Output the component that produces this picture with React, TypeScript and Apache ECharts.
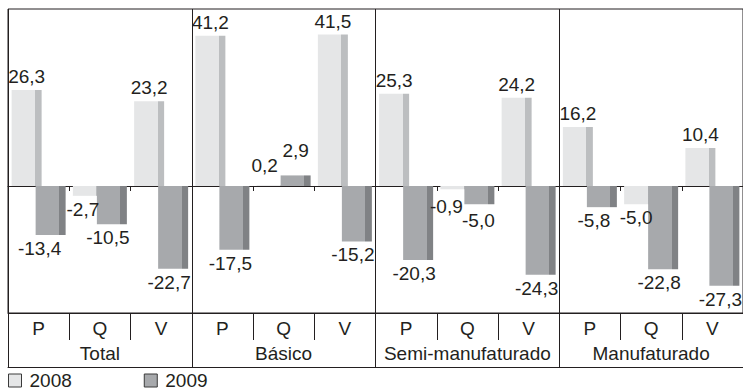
import React, { useEffect, useRef } from "react";
import * as echarts from "echarts";

// Price (P), quantity (Q) and value (V) variation by product group, in %
const groups = ["Total", "Básico", "Semi-manufaturado", "Manufaturado"];
const measures = ["P", "Q", "V"];
const years = ["2008", "2009"];

const values2008 = [26.3, -2.7, 23.2, 41.2, 0.2, 41.5, 25.3, -0.9, 24.2, 16.2, -5.0, 10.4];
const values2009 = [-13.4, -10.5, -22.7, -17.5, 2.9, -15.2, -20.3, -5.0, -24.3, -5.8, -22.8, -27.3];

const INK = "#231f20";
const FONT = "'Liberation Sans', Arial, Helvetica, sans-serif";
const FONT_SIZE = 19;

const palette = {
  "2008": { face: "#e5e6e7", side: "#bcbec0" },
  "2009": { face: "#a7a9ac", side: "#808285" },
};

// Face plus a darker right-hand strip gives the bars their bevelled look
const barFill = (face: string, side: string) =>
  new echarts.graphic.LinearGradient(0, 0, 1, 0, [
    { offset: 0, color: face },
    { offset: 0.78, color: face },
    { offset: 0.78, color: side },
    { offset: 1, color: side },
  ]);

const fmt = (v: number) => v.toFixed(1).replace(".", ",");

// Labels sit slightly left of their bars; a few are nudged away from neighbours
const labelShift: Record<string, number> = { "2008": 0, "2009": -4 };
const labelNudges: Record<string, number[]> = {
  "2008-1": [-5, 0],
  "2008-4": [-7, -6],
  "2009-4": [0, -11],
  "2009-0": [-11, 0],
  "2008-7": [-9, 4],
  "2009-7": [-1, 3],
  "2009-9": [-8, 0],
  "2008-10": [-3, 0],
};

const buildSeries = (year: string, vals: number[]) => ({
  name: year,
  type: "bar",
  xAxisIndex: 0,
  yAxisIndex: 0,
  barWidth: 30,
  barGap: "-20%",
  itemStyle: { color: barFill(palette[year].face, palette[year].side) },
  label: {
    show: true,
    color: INK,
    fontFamily: FONT,
    fontSize: FONT_SIZE,
    distance: 4,
    formatter: (p: any) => fmt(p.value),
  },
  data: vals.map((v, i) => ({
    value: v,
    label: {
      position: v >= 0 ? "top" : "bottom",
      offset: labelNudges[`${year}-${i}`] || [v < 0 ? labelShift[year] : 0, 0],
    },
  })),
});

export default function App() {
  const ref = useRef<HTMLDivElement>(null);

  useEffect(() => {
    if (!ref.current) return;
    const chart = echarts.init(ref.current, undefined, { renderer: "svg" });

    const cells = groups.flatMap(() => measures);
    const line = { color: INK, width: 1 };
    const axisText = { fontSize: FONT_SIZE, color: INK, fontFamily: FONT };

    chart.setOption({
      animation: false,
      backgroundColor: "#ffffff",
      textStyle: { fontFamily: FONT, color: INK },
      grid: {
        left: 8,
        top: 9,
        width: 744,
        height: 304,
        show: true,
        borderColor: INK,
        borderWidth: 1,
        backgroundColor: "transparent",
      },
      legend: {
        left: 8,
        top: 371,
        itemWidth: 13,
        itemHeight: 13,
        itemGap: 72,
        icon: "rect",
        padding: 0,
        textStyle: { ...axisText, lineHeight: 15, padding: [0, 0, 0, 3] },
        data: years.map((y) => ({
          name: y,
          itemStyle: { color: palette[y].face, borderColor: "#3a3a3a", borderWidth: 1 },
        })),
      },
      xAxis: [
        {
          // zero line with short ticks between the measures
          type: "category",
          gridIndex: 0,
          data: cells,
          position: "bottom",
          axisLine: { show: true, onZero: true, lineStyle: line },
          axisTick: { show: true, interval: 0, length: 5, lineStyle: line },
          axisLabel: { show: false },
          splitLine: { show: false },
        },
        {
          // P / Q / V row
          type: "category",
          gridIndex: 0,
          data: cells,
          position: "bottom",
          offset: 0,
          axisLine: { show: true, onZero: false, lineStyle: line },
          axisTick: { show: true, interval: 0, length: 27, lineStyle: line },
          axisLabel: { show: true, interval: 0, margin: 6, ...axisText },
          splitLine: { show: false },
        },
        {
          // product group row and panel dividers
          type: "category",
          gridIndex: 0,
          data: groups,
          position: "bottom",
          offset: 54,
          axisLine: { show: true, onZero: false, lineStyle: line },
          axisTick: { show: true, interval: 0, inside: true, length: 54, lineStyle: line },
          axisLabel: { show: true, interval: 0, inside: true, margin: 4, ...axisText },
          splitLine: { show: true, interval: 0, lineStyle: line },
        },
      ],
      yAxis: {
        type: "value",
        gridIndex: 0,
        min: -34.8,
        max: 48.5,
        show: false,
        splitLine: { show: false },
      },
      series: [buildSeries("2008", values2008), buildSeries("2009", values2009)],
    });

    return () => chart.dispose();
  }, []);

  return (
    <div
      ref={ref}
      style={{ position: "fixed", left: 0, top: 0, width: 743, height: 389, background: "#fff" }}
    />
  );
}
